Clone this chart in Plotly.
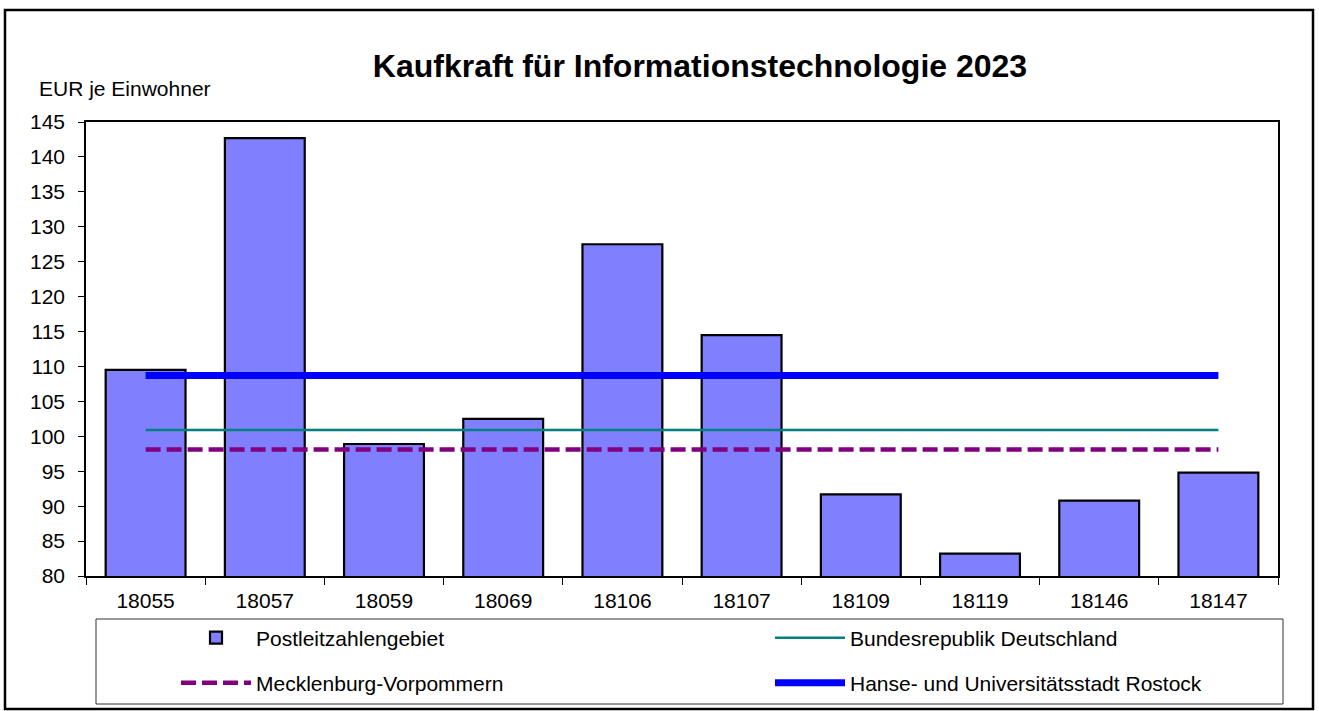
import plotly.graph_objects as go

# ---- data ----
categories = ["18055", "18057", "18059", "18069", "18106", "18107", "18109", "18119", "18146", "18147"]
plz_values = [109.5, 142.7, 98.9, 102.5, 127.5, 114.5, 91.7, 83.2, 90.8, 94.8]
brd_value = 100.9      # Bundesrepublik Deutschland
mv_value = 98.1        # Mecklenburg-Vorpommern
rostock_value = 108.7  # Hanse- und Universitätsstadt Rostock
y_ticks = [80, 85, 90, 95, 100, 105, 110, 115, 120, 125, 130, 135, 140, 145]

title_text = "Kaufkraft für Informationstechnologie 2023"
y_unit = "EUR je Einwohner"

# ---- layout geometry (pixels) ----
W, H = 1319, 711
L, R, T, B = 86, 1278, 122, 576
FONT = "Liberation Sans, Arial, sans-serif"


def px(x):
    return (x - L) / (R - L)


def py(y):
    return (B - y) / (B - T)


fig = go.Figure()
fig.add_trace(go.Bar(
    x=categories, y=plz_values, name="Postleitzahlengebiet",
    marker=dict(color="#8080FF", line=dict(color="black", width=2.2)),
    legend="legend",
))
fig.add_trace(go.Scatter(
    x=categories, y=[brd_value] * len(categories), mode="lines",
    name="Bundesrepublik Deutschland",
    line=dict(color="#008080", width=2.5), legend="legend2",
))
fig.add_trace(go.Scatter(
    x=categories, y=[mv_value] * len(categories), mode="lines",
    name="Mecklenburg-Vorpommern",
    line=dict(color="#800080", width=4.5, dash="15px,6px"), legend="legend3",
))
fig.add_trace(go.Scatter(
    x=categories, y=[rostock_value] * len(categories), mode="lines",
    name="Hanse- und Universitätsstadt Rostock",
    line=dict(color="#0000FF", width=7), legend="legend4",
))

legend_common = dict(
    xanchor="left", yanchor="middle",
    font=dict(family=FONT, size=21, color="black"),
    bgcolor="rgba(0,0,0,0)", borderwidth=0, itemwidth=70,
)

fig.update_layout(
    width=W, height=H,
    margin=dict(l=L, r=W - R, t=T, b=H - B, autoexpand=False),
    paper_bgcolor="white", plot_bgcolor="white",
    font=dict(family=FONT, size=21, color="black"),
    title=dict(text="<b>" + title_text + "</b>", x=700 / W, xanchor="center",
               y=1 - 66 / H, yanchor="middle",
               font=dict(family=FONT, size=32, color="black")),
    bargap=0.33,
    showlegend=True,
    legend=dict(legend_common, x=px(176), y=py(638)),
    legend2=dict(legend_common, x=px(770), y=py(638)),
    legend3=dict(legend_common, x=px(176), y=py(683)),
    legend4=dict(legend_common, x=px(770), y=py(683)),
    xaxis=dict(
        type="category", showline=True, linecolor="black", linewidth=1.5,
        mirror=True, ticks="outside", ticklen=7, tickcolor="black",
        tickson="boundaries", showgrid=False, zeroline=False,
        ticklabelstandoff=5,
        tickfont=dict(family=FONT, size=21, color="black"),
    ),
    yaxis=dict(
        range=[80, 145], tickvals=y_ticks, showline=True, linecolor="black",
        linewidth=1.5, mirror=True, ticks="outside", ticklen=6,
        tickcolor="black", showgrid=False, zeroline=False,
        ticklabelstandoff=9,
        tickfont=dict(family=FONT, size=21, color="black"),
    ),
    annotations=[dict(
        text=y_unit, xref="paper", yref="paper", x=px(37), y=py(88),
        xanchor="left", yanchor="middle", showarrow=False,
        font=dict(family=FONT, size=21, color="black"),
    )],
    shapes=[
        dict(type="rect", xref="paper", yref="paper",
             x0=px(96), x1=px(1283), y0=py(704), y1=py(619),
             line=dict(color="#333333", width=1), layer="below"),
        dict(type="rect", xref="paper", yref="paper",
             x0=px(5), x1=px(1313), y0=py(709), y1=py(10),
             line=dict(color="black", width=2.5), layer="below"),
    ],
)

fig.write_html("out.html", config={"displayModeBar": False},
               post_script="document.body.style.margin='0px';")
